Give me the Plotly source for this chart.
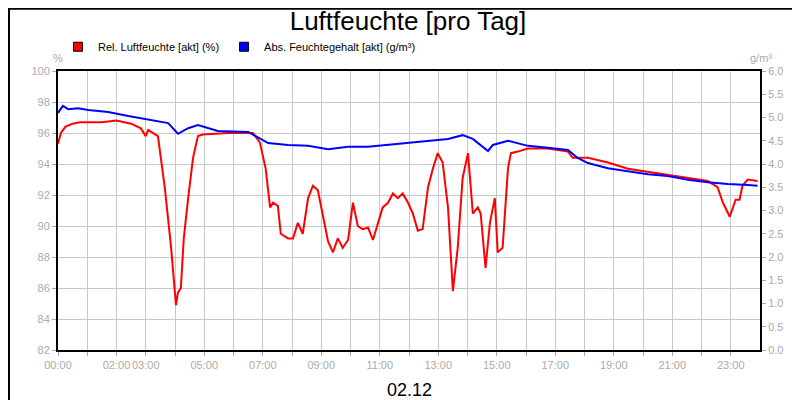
import plotly.graph_objects as go

# minutes since midnight / relative humidity (%)
rel_min = [0, 6, 15, 30, 45, 60, 90, 120, 150, 170, 180, 185, 195, 205, 219, 232, 242, 246, 252, 258,
           267, 277, 287, 297, 349, 400, 414, 426, 435, 441, 451, 457, 472, 482, 492, 502, 513, 523,
           533, 544, 554, 564, 574, 584, 595, 605, 615, 625, 636, 646, 656, 666, 677, 687, 697, 707,
           718, 728, 738, 748, 759, 769, 779, 789, 800, 810, 820, 830, 841, 851, 861, 867, 877, 886,
           896, 902, 912, 923, 929, 943, 964, 1005, 1046, 1056, 1087, 1128, 1169, 1210, 1251, 1292,
           1333, 1353, 1364, 1378, 1390, 1398, 1404, 1415, 1435]
rel_val = [95.3, 96.0, 96.4, 96.6, 96.7, 96.7, 96.7, 96.8, 96.6, 96.3, 95.8, 96.2, 96.0, 95.8, 92.5, 88.6,
           84.9, 85.7, 86.0, 89.2, 91.8, 94.4, 95.8, 95.9, 96.0, 96.0, 95.4, 93.7, 91.2, 91.5, 91.3,
           89.5, 89.2, 89.2, 90.2, 89.5, 91.8, 92.6, 92.3, 90.5, 89.0, 88.3, 89.2, 88.6, 89.1, 91.5,
           90.0, 89.8, 89.9, 89.1, 90.2, 91.2, 91.5, 92.1, 91.8, 92.1, 91.5, 90.8, 89.7, 89.8, 92.5,
           93.7, 94.7, 94.1, 91.2, 85.8, 88.6, 93.1, 94.7, 90.8, 91.2, 90.8, 87.3, 90.2, 91.8, 88.3,
           88.6, 93.7, 94.7, 94.8, 95.0, 95.0, 94.8, 94.4, 94.4, 94.1, 93.7, 93.5, 93.3, 93.1, 92.9,
           92.5, 91.5, 90.6, 91.7, 91.7, 92.6, 93.0, 92.9]

# minutes since midnight / absolute humidity (g/m³)
abs_min = [0, 10, 21, 41, 62, 103, 144, 185, 226, 246, 267, 287, 328, 390, 431, 472, 513, 554, 595,
           636, 677, 718, 759, 800, 830, 851, 882, 892, 923, 964, 1005, 1046, 1066, 1087, 1128, 1169,
           1210, 1251, 1292, 1333, 1374, 1415, 1435]
abs_val = [5.1, 5.25, 5.18, 5.2, 5.16, 5.12, 5.03, 4.95, 4.88, 4.65, 4.77, 4.84, 4.71, 4.69, 4.45,
           4.41, 4.39, 4.32, 4.37, 4.37, 4.41, 4.45, 4.5, 4.54, 4.62, 4.54, 4.28, 4.41, 4.5, 4.39,
           4.35, 4.3, 4.13, 4.02, 3.91, 3.85, 3.78, 3.74, 3.66, 3.61, 3.57, 3.55, 3.53]

tick_text = ['00:00', '', '02:00', '03:00', '', '05:00', '', '07:00', '', '09:00', '', '11:00', '',
             '13:00', '', '15:00', '', '17:00', '', '19:00', '', '21:00', '', '23:00']

fnt = 'Liberation Sans, Arial, sans-serif'
fig = go.Figure()

fig.add_trace(go.Scatter(x=abs_min, y=abs_val, yaxis='y2', mode='lines', showlegend=False,
                         line=dict(color='#0000ff', width=2)))
fig.add_trace(go.Scatter(x=rel_min, y=rel_val, mode='lines', showlegend=False,
                         line=dict(color='#ff0000', width=2)))

# square legend markers
fig.add_trace(go.Scatter(x=[None], y=[None], mode='markers', name='Rel. Luftfeuchte [akt] (%)',
                         marker=dict(symbol='square', size=9, color='#ff0000', line=dict(color='black', width=1))))
fig.add_trace(go.Scatter(x=[None], y=[None], mode='markers', name='Abs. Feuchtegehalt [akt] (g/m³)',
                         marker=dict(symbol='square', size=9, color='#0000ff', line=dict(color='black', width=1))))

tf = dict(size=11, color='#aaaaaa', family='Liberation Sans Narrow, Liberation Sans, Arial')

fig.update_layout(
    width=800, height=400,
    margin=dict(l=50, r=48, t=63, b=58, autoexpand=False),
    paper_bgcolor='white', plot_bgcolor='white',
    font=dict(family=fnt, size=11, color='#aaaaaa'),
    title=dict(text='Luftfeuchte [pro Tag]', x=0.5, xanchor='center', y=0.99, yanchor='top',
               font=dict(size=26, color='black', family=fnt), automargin=False),
    showlegend=True,
    legend=dict(orientation='h', x=0.0, y=1.035, xanchor='left', yanchor='bottom',
                font=dict(size=11, color='black', family=fnt),
                bgcolor='rgba(0,0,0,0)', tracegroupgap=0),
    xaxis=dict(range=[0, 1440], tickvals=list(range(0, 1440, 60)), ticktext=tick_text,
               tickangle=0, automargin=False,
               showgrid=True, gridcolor='#c8c8c8', gridwidth=1, ticks='outside', ticklen=4,
               tickcolor='#aaaaaa', showline=True, linecolor='black', linewidth=2, mirror=True,
               zeroline=False, tickfont=tf),
    yaxis=dict(range=[82, 100], dtick=2, showgrid=True, gridcolor='#c8c8c8', ticks='outside',
               ticklen=4, tickcolor='#aaaaaa', showline=True, linecolor='black', linewidth=2,
               zeroline=False, tickfont=tf, automargin=False),
    yaxis2=dict(range=[0, 6], dtick=0.5, tickformat='.1f', overlaying='y', side='right',
                showgrid=False, ticks='outside', ticklen=4, tickcolor='#aaaaaa', showline=True,
                linecolor='black', linewidth=2, zeroline=False, tickfont=tf, automargin=False),
    shapes=[dict(type='rect', xref='paper', yref='paper', x0=-0.0698, x1=1.0665, y0=-0.205, y1=1.2235,
                 line=dict(color='black', width=2))],
    annotations=[
        dict(text='%', xref='paper', yref='paper', x=-0.01, y=1.075, showarrow=False,
             font=dict(size=11, color='#aaaaaa')),
        dict(text='g/m³', xref='paper', yref='paper', x=1.02, y=1.075, showarrow=False,
             font=dict(size=11, color='#aaaaaa')),
        dict(text='02.12', xref='paper', yref='paper', x=0.5, y=-0.1, yanchor='top', showarrow=False,
             font=dict(size=18, color='black')),
    ],
)

fig.write_html('out.html')
